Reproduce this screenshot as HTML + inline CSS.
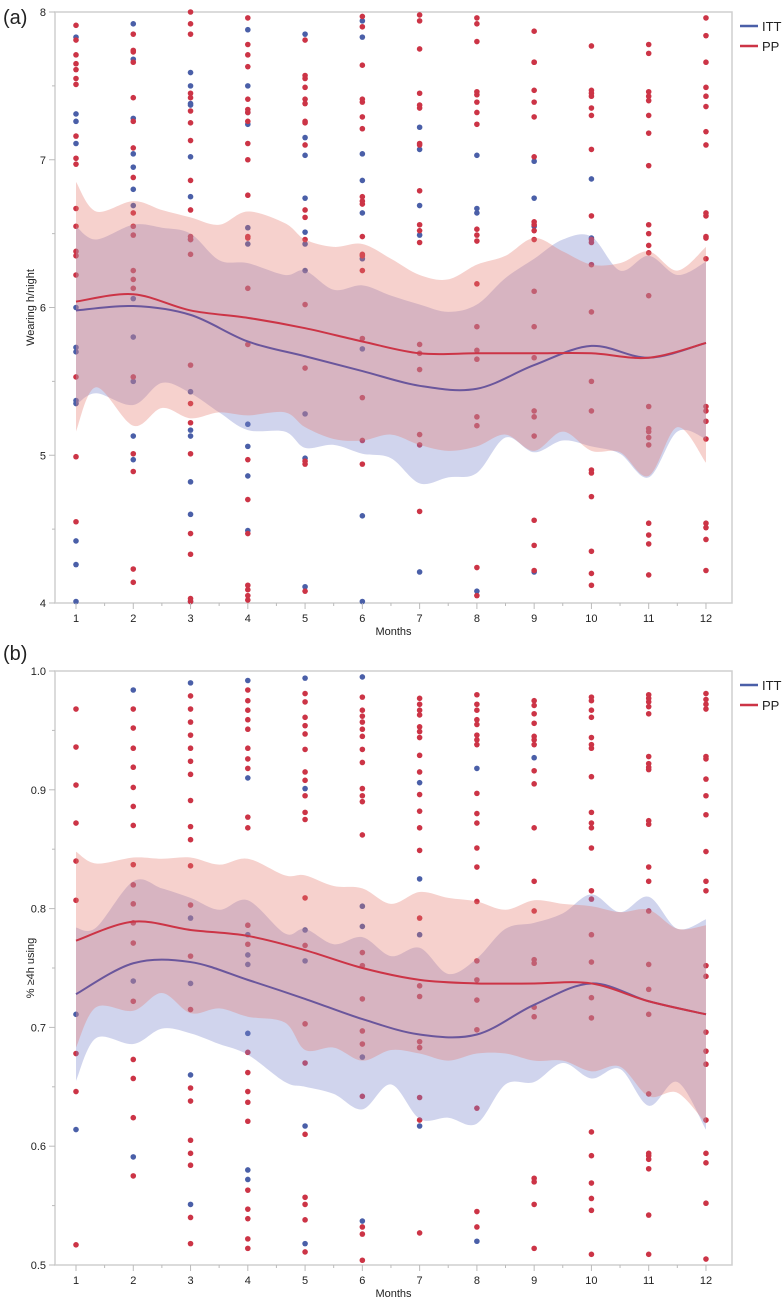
<!DOCTYPE html>
<html><head><meta charset="utf-8">
<style>
body{margin:0;background:#fff;font-family:"Liberation Sans",Arial,sans-serif;}
svg{display:block}
text{font-family:"Liberation Sans",Arial,sans-serif;fill:#222}
</style></head>
<body>
<svg id="chart" width="782" height="1301" viewBox="0 0 782 1301" xmlns="http://www.w3.org/2000/svg"></svg>
<script>
const months=[1,2,3,4,5,6,7,8,9,10,11,12];
const bandX=[1,1.35,2,2.5,3,3.5,4,4.65,5,5.5,6,6.5,7,7.5,8,8.5,9,9.5,10,10.5,11,11.5,12];
// Panel A: wearing hours per night
const aTicks=[4,5,6,7,8];
const aPPpts=[
[7.91,7.81,7.71,7.65,7.61,7.55,7.51,7.16,7.01,6.97,6.67,6.55,6.38,6.35,6.22,5.53,4.99,4.55],
[7.85,7.74,7.73,7.66,7.42,7.26,7.08,6.88,6.64,6.55,6.49,6.25,6.19,6.13,5.53,5.01,4.89,4.23,4.14],
[8.00,7.92,7.85,7.45,7.42,7.33,7.25,7.13,6.86,6.66,6.48,6.46,6.36,5.61,5.35,5.22,5.01,4.47,4.33,4.03,4.01],
[7.96,7.78,7.71,7.63,7.41,7.34,7.32,7.26,7.11,7.00,6.76,6.48,6.47,6.13,5.75,4.97,4.70,4.47,4.12,4.09,4.05,4.02],
[7.81,7.57,7.55,7.49,7.41,7.38,7.26,7.25,7.10,6.66,6.61,6.46,6.02,5.59,4.96,4.94,4.08],
[7.97,7.90,7.64,7.41,7.39,7.29,7.21,6.75,6.72,6.70,6.48,6.36,6.35,6.25,5.79,5.39,5.10,4.94],
[7.98,7.94,7.75,7.45,7.37,7.35,7.11,7.10,6.79,6.56,6.52,6.44,5.75,5.69,5.58,5.14,5.07,4.62],
[7.96,7.92,7.80,7.46,7.44,7.39,7.32,7.24,6.53,6.49,6.45,6.16,5.87,5.71,5.65,5.26,5.20,4.24,4.05],
[7.87,7.66,7.66,7.47,7.39,7.29,7.02,6.58,6.56,6.52,6.46,6.11,5.87,5.66,5.30,5.26,5.13,4.56,4.39,4.22],
[7.77,7.47,7.45,7.43,7.35,7.30,7.07,6.62,6.46,6.44,6.29,5.97,5.50,5.30,4.90,4.88,4.72,4.35,4.20,4.12],
[7.78,7.72,7.46,7.43,7.40,7.30,7.18,6.96,6.56,6.50,6.42,6.37,6.08,5.33,5.18,5.16,5.12,5.07,4.54,4.46,4.40,4.19],
[7.96,7.84,7.66,7.49,7.43,7.36,7.19,7.10,6.64,6.62,6.48,6.47,6.33,5.33,5.30,5.23,5.11,4.54,4.51,4.43,4.22]];
const aITTpts=[
[7.83,7.31,7.26,7.11,6.00,5.73,5.70,5.37,5.35,4.42,4.26,4.01],
[7.92,7.68,7.28,7.04,6.95,6.80,6.69,6.06,5.80,5.50,5.13,4.97],
[7.59,7.50,7.38,7.37,7.02,6.75,6.46,5.43,5.17,5.13,4.82,4.60,4.01],
[7.88,7.50,7.32,7.24,6.54,6.43,5.21,5.06,4.86,4.49],
[7.85,7.15,7.03,6.74,6.51,6.43,6.25,5.28,4.98,4.11],
[7.94,7.83,7.04,6.86,6.64,6.33,5.72,4.59,4.01],
[7.22,7.07,6.69,6.49,4.21],
[7.03,6.67,6.64,4.08],
[6.99,6.74,6.55,4.21],
[6.87,6.47],[],[]];
const aPPline=[6.04,6.09,5.98,5.93,5.86,5.77,5.69,5.69,5.69,5.69,5.66,5.76];
const aITTline=[5.98,6.01,5.95,5.77,5.67,5.57,5.47,5.45,5.61,5.74,5.66,5.76];
const aPPupper=[6.85,6.65,6.72,6.66,6.61,6.56,6.65,6.57,6.46,6.41,6.43,6.33,6.22,6.19,6.29,6.35,6.47,6.38,6.29,6.30,6.38,6.25,6.41];
const aPPlower=[5.16,5.46,5.20,5.32,5.25,5.29,5.27,5.29,5.19,5.11,5.10,5.14,5.07,5.03,5.06,5.14,5.03,5.16,5.03,5.02,4.86,5.19,4.95];
const aITTupper=[6.55,6.46,6.56,6.54,6.50,6.32,6.30,6.22,6.25,6.12,6.15,6.08,6.02,5.97,6.02,6.20,6.33,6.46,6.48,6.25,6.35,6.22,6.31];
const aITTlower=[5.34,5.42,5.34,5.49,5.42,5.29,5.17,5.16,5.05,5.07,5.01,4.98,4.81,4.85,4.88,5.12,5.02,5.10,5.06,5.01,4.85,5.16,5.11];
// Panel B: proportion of nights >=4h
const bTicks=[0.5,0.6,0.7,0.8,0.9,1.0];
const bTickLabels=["0.5","0.6","0.7","0.8","0.9","1.0"];
const bPPpts=[
[0.968,0.936,0.904,0.872,0.840,0.807,0.678,0.646,0.517],
[0.968,0.952,0.935,0.919,0.902,0.886,0.870,0.837,0.820,0.804,0.788,0.771,0.722,0.673,0.657,0.624,0.575],
[0.979,0.968,0.957,0.946,0.935,0.924,0.913,0.891,0.869,0.858,0.836,0.803,0.760,0.715,0.649,0.638,0.605,0.594,0.584,0.540,0.518],
[0.984,0.975,0.967,0.959,0.951,0.935,0.926,0.918,0.877,0.868,0.786,0.770,0.679,0.662,0.646,0.637,0.621,0.563,0.547,0.539,0.522,0.514],
[0.981,0.974,0.961,0.954,0.947,0.934,0.915,0.908,0.895,0.881,0.875,0.809,0.769,0.703,0.670,0.610,0.557,0.551,0.538,0.511],
[0.978,0.967,0.962,0.957,0.951,0.945,0.934,0.923,0.901,0.895,0.890,0.862,0.763,0.752,0.724,0.697,0.686,0.642,0.532,0.526,0.504],
[0.977,0.972,0.967,0.963,0.953,0.949,0.944,0.929,0.915,0.896,0.882,0.868,0.849,0.792,0.735,0.726,0.688,0.683,0.641,0.622,0.527],
[0.980,0.972,0.967,0.959,0.955,0.946,0.942,0.938,0.897,0.880,0.872,0.851,0.835,0.806,0.756,0.740,0.723,0.698,0.632,0.545,0.532],
[0.975,0.971,0.964,0.956,0.945,0.942,0.938,0.916,0.905,0.868,0.823,0.798,0.757,0.754,0.717,0.709,0.573,0.570,0.551,0.514],
[0.978,0.975,0.967,0.961,0.944,0.938,0.935,0.911,0.881,0.872,0.868,0.851,0.815,0.808,0.778,0.755,0.725,0.708,0.612,0.592,0.569,0.556,0.546,0.509],
[0.980,0.977,0.974,0.970,0.964,0.928,0.922,0.919,0.917,0.874,0.871,0.835,0.823,0.798,0.753,0.732,0.711,0.644,0.594,0.592,0.589,0.581,0.542,0.509],
[0.981,0.976,0.972,0.968,0.928,0.926,0.909,0.895,0.879,0.848,0.823,0.815,0.752,0.743,0.696,0.680,0.669,0.622,0.594,0.586,0.552,0.505]];
const bITTpts=[
[0.711,0.614],
[0.984,0.739,0.591],
[0.990,0.792,0.737,0.660,0.551],
[0.992,0.910,0.778,0.761,0.753,0.695,0.580,0.572],
[0.994,0.901,0.782,0.756,0.617,0.518],
[0.995,0.802,0.785,0.675,0.537],
[0.906,0.825,0.778,0.617],
[0.918,0.520],
[0.927],[],[],[]];
const bPPline=[0.773,0.789,0.782,0.777,0.765,0.750,0.740,0.737,0.737,0.737,0.722,0.711];
const bITTline=[0.728,0.754,0.755,0.740,0.724,0.707,0.694,0.694,0.719,0.737,0.722,0.711];
const bPPupper=[0.848,0.838,0.843,0.842,0.843,0.837,0.842,0.828,0.828,0.819,0.817,0.804,0.814,0.809,0.806,0.799,0.807,0.804,0.802,0.797,0.799,0.783,0.786];
const bPPlower=[0.683,0.717,0.714,0.729,0.712,0.716,0.709,0.704,0.681,0.683,0.672,0.681,0.678,0.672,0.678,0.678,0.672,0.672,0.663,0.667,0.642,0.645,0.619];
const bITTupper=[0.784,0.784,0.823,0.817,0.809,0.799,0.807,0.779,0.783,0.770,0.776,0.760,0.767,0.745,0.758,0.783,0.788,0.796,0.812,0.797,0.810,0.783,0.791];
const bITTlower=[0.655,0.691,0.686,0.699,0.695,0.686,0.677,0.654,0.650,0.644,0.631,0.652,0.623,0.624,0.619,0.652,0.654,0.670,0.657,0.665,0.634,0.654,0.614];

const NS="http://www.w3.org/2000/svg";
const svg=document.getElementById('chart');
const RED="#cc3446",BLUE="#4a5fa8",ITTLINE="#6a569c";
function mk(tag,attrs,parent){const e=document.createElementNS(NS,tag);for(const k in attrs)e.setAttribute(k,attrs[k]);(parent||svg).appendChild(e);return e;}
function smooth(pts){let d="M"+pts[0][0]+","+pts[0][1];for(let i=0;i<pts.length-1;i++){const p0=pts[Math.max(0,i-1)],p1=pts[i],p2=pts[i+1],p3=pts[Math.min(pts.length-1,i+2)];const c1x=p1[0]+(p2[0]-p0[0])/6,c1y=p1[1]+(p2[1]-p0[1])/6,c2x=p2[0]-(p3[0]-p1[0])/6,c2y=p2[1]-(p3[1]-p1[1])/6;d+=" C"+c1x+","+c1y+" "+c2x+","+c2y+" "+p2[0]+","+p2[1];}return d;}
function smoothCont(pts){return smooth(pts).replace(/^M/,"L");}

function panel(cfg){
  const L=55,R=732,T=cfg.top,B=cfg.bottom;
  const xs=m=>76+(m-1)*57.27;
  const ys=v=>B-(v-cfg.min)/(cfg.max-cfg.min)*(B-T);
  const g=mk('g',{});
  
  
  const fr=mk('rect',{x:L,y:T,width:R-L,height:B-T,fill:'none',stroke:'#cfcfcf','stroke-width':1.5},g);
  
  
  // dots
  const dg=mk('g',{},g);
  
  
  cfg.itt.forEach((arr,i)=>arr.forEach(v=>{const c=mk('circle',{cx:xs(months[i]),cy:ys(v),r:2.8,fill:BLUE},dg);}));
  cfg.pp.forEach((arr,i)=>arr.forEach(v=>{const c=mk('circle',{cx:xs(months[i]),cy:ys(v),r:2.8,fill:RED},dg);}));
  // bands
  function band(up,lo,fill,name){
    const top=bandX.map((m,i)=>[xs(m),ys(up[i])]);
    const bot=bandX.map((m,i)=>[xs(m),ys(lo[i])]).reverse();
    const d=smooth(top)+" "+smoothCont(bot)+" Z";
    const p=mk('path',{d:d,fill:fill,stroke:'none'},g);
    
    
  }
  band(cfg.ittU,cfg.ittL,'rgba(125,135,205,0.36)','itt-confidence-band');
  band(cfg.ppU,cfg.ppL,'rgba(228,120,108,0.34)','pp-confidence-band');
  const l1=mk('path',{d:smooth(months.map((m,i)=>[xs(m),ys(cfg.ittLine[i])])),fill:'none',stroke:ITTLINE,'stroke-width':2},g);
  
  
  const l2=mk('path',{d:smooth(months.map((m,i)=>[xs(m),ys(cfg.ppLine[i])])),fill:'none',stroke:RED,'stroke-width':2},g);
  
  
  // y ticks
  cfg.ticks.forEach((v,i)=>{
    const y=ys(v);
    mk('line',{x1:L-6,x2:L,y1:y,y2:y,stroke:'#bbb'},g);
    const t=mk('text',{x:L-9,y:y+4,'text-anchor':'end','font-size':11},g);
    t.textContent=cfg.labels[i];
    
    
    if(i<cfg.ticks.length-1){const ym=ys(v+(cfg.ticks[1]-cfg.ticks[0])/2);mk('line',{x1:L-3,x2:L,y1:ym,y2:ym,stroke:'#bbb'},g);}
  });
  months.forEach((m,i)=>{
    const x=xs(m);
    mk('line',{x1:x,x2:x,y1:B,y2:B+6,stroke:'#bbb'},g);
    if(i<11)mk('line',{x1:x+28.6,x2:x+28.6,y1:B,y2:B+3,stroke:'#bbb'},g);
    const t=mk('text',{x:x,y:B+19,'text-anchor':'middle','font-size':11},g);
    t.textContent=String(m);
    
    
  });
  const xt=mk('text',{x:(L+R)/2,y:B+32,'text-anchor':'middle','font-size':11},g);
  xt.textContent='Months';
  
  
  const yt=mk('text',{x:0,y:0,'text-anchor':'middle','font-size':11,transform:`translate(34,${(T+B)/2}) rotate(-90)`},g);
  yt.textContent=cfg.ytitle;
  
  
  const pl=mk('text',{x:3,y:cfg.labelY,'font-size':20},g);
  pl.textContent=cfg.panelLabel;
  
  
  [['ITT',BLUE,0],['PP',RED,20]].forEach(([n,c,off])=>{
    const lg=mk('g',{},g);
    
    
    mk('line',{x1:740,x2:758,y1:T+14+off,y2:T+14+off,stroke:c,'stroke-width':2.5},lg);
    const t=mk('text',{x:762,y:T+19+off,'font-size':13},lg);
    t.textContent=n;
  });
}
panel({name:'panel-a-wearing-hours',top:12,bottom:603,min:4,max:8,ticks:aTicks,labels:aTicks.map(String),
 pp:aPPpts,itt:aITTpts,ppLine:aPPline,ittLine:aITTline,ppU:aPPupper,ppL:aPPlower,ittU:aITTupper,ittL:aITTlower,
 ytitle:'Wearing h/night',panelLabel:'(a)',labelY:24});
panel({name:'panel-b-percent-4h',top:671,bottom:1265,min:0.5,max:1.0,ticks:bTicks,labels:bTickLabels,
 pp:bPPpts,itt:bITTpts,ppLine:bPPline,ittLine:bITTline,ppU:bPPupper,ppL:bPPlower,ittU:bITTupper,ittL:bITTlower,
 ytitle:'% \u22654h using',panelLabel:'(b)',labelY:660});
</script>
</body></html>
